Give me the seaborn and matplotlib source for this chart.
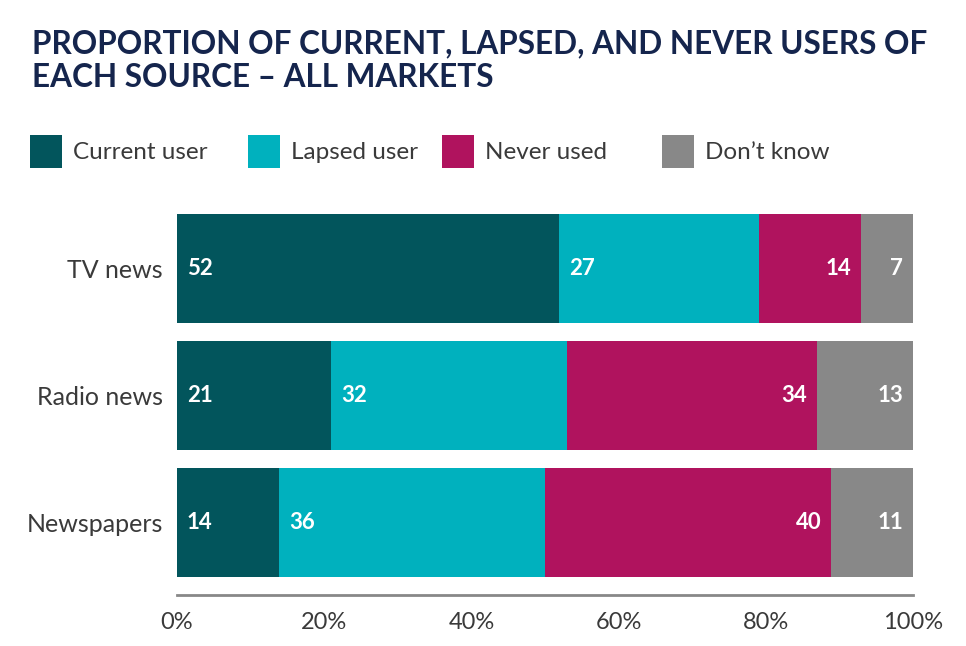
"""
Proportion of current, lapsed and never users of each source - stacked bars
"""

import numpy as np
import matplotlib
matplotlib.use('Agg')
import matplotlib.pyplot as plt
from matplotlib.patches import Rectangle
import seaborn as sns

sns.set_theme(style='white')
plt.rcParams['font.family'] = ['Lato', 'DejaVu Sans']

# data
sources = ['TV news', 'Radio news', 'Newspapers']
series = ['Current user', 'Lapsed user', 'Never used', "Don\u2019t know"]
# segment widths as drawn (%)
current_user = [51.9, 20.9, 13.9]
lapsed_user = [27.2, 32.1, 36.1]
never_used = [13.9, 34.0, 38.9]
dont_know = [7.0, 13.0, 11.1]
# printed labels
current_lbl = [52, 21, 14]
lapsed_lbl = [27, 32, 36]
never_lbl = [14, 34, 40]
dont_lbl = [7, 13, 11]
xticks = [0, 20, 40, 60, 80, 100]
colors = ['#02555c', '#00b1be', '#b0135e', '#888888']

TITLE_COL = '#15254d'
TEXT_COL = '#3a3a3a'

W, H = 966, 646
fig = plt.figure(figsize=(W / 100, H / 100), dpi=100)
ax = fig.add_axes([177 / W, (H - 595) / H, (913 - 177) / W, (595 - 205) / H])

vals = np.array([current_user, lapsed_user, never_used, dont_know])
lbls = [current_lbl, lapsed_lbl, never_lbl, dont_lbl]
cum = vals.cumsum(axis=0)
starts = cum - vals

# stacked bars: draw the longest (cumulative) first, then overlay the shorter ones
for i in range(len(series) - 1, -1, -1):
    sns.barplot(x=cum[i], y=sources, color=colors[i], orient='h', width=0.86,
                saturation=1, ax=ax, linewidth=0)

pad = 1.35
for i in range(len(series)):
    for j in range(len(sources)):
        if i < 2:
            ax.text(starts[i, j] + pad, j, str(lbls[i][j]), ha='left', va='center',
                    color='white', fontsize=16, fontweight='bold')
        else:
            ax.text(cum[i, j] - pad, j, str(lbls[i][j]), ha='right', va='center',
                    color='white', fontsize=16, fontweight='bold')

ax.set_xlim(0, 100)
ax.set_ylim(2.571, -0.5)
ax.set_xticks(xticks)
ax.set_xticklabels([f'{t}%' for t in xticks], fontsize=17, color=TEXT_COL)
ax.tick_params(axis='y', labelsize=18, labelcolor=TEXT_COL, length=0, pad=10)
ax.tick_params(axis='x', length=0, pad=12)
ax.set_xlabel('')
ax.set_ylabel('')
for s in ['top', 'right', 'left']:
    ax.spines[s].set_visible(False)
ax.spines['bottom'].set_color('#888888')
ax.spines['bottom'].set_linewidth(2)
ax.grid(False)

# title
fig.text(32 / W, 1 - 29 / H, 'PROPORTION OF CURRENT, LAPSED, AND NEVER USERS OF\nEACH SOURCE \u2013 ALL MARKETS',
         ha='left', va='top', fontsize=22.7, fontweight='bold', color=TITLE_COL, linespacing=1.2)

# legend
leg_x = [30, 248, 442, 662]
for x0, name, c in zip(leg_x, series, colors):
    fig.add_artist(Rectangle((x0 / W, 1 - 168 / H), 32 / W, 33 / H, transform=fig.transFigure,
                             facecolor=c, edgecolor='none'))
    fig.text((x0 + 43) / W, 1 - 152 / H, name, ha='left', va='center', fontsize=17.5, color=TEXT_COL)

fig.savefig('out.png', dpi=100)
